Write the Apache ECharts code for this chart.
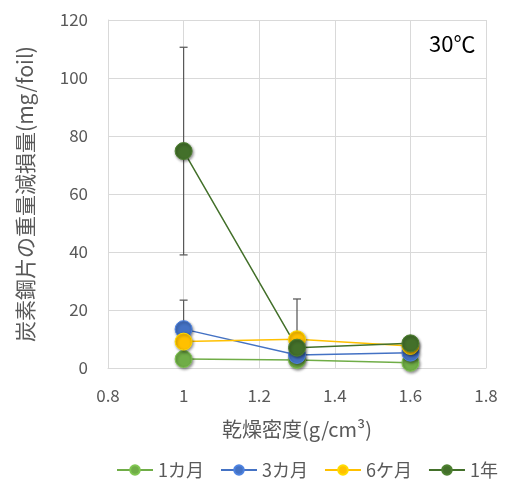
<!DOCTYPE html>
<html>
<head>
<meta charset="utf-8">
<script src="https://cdn.jsdelivr.net/npm/echarts@6/dist/echarts.min.js"></script>
<style>
  html, body { margin: 0; padding: 0; background: #fff; }
  #chart { width: 518px; height: 483px; }
</style>
</head>
<body>
<div id="chart"></div>
<script>
  // 乾燥密度 (x)
  var density = [1, 1.3, 1.6];
  // 重量減損量 mg/foil
  var month1 = [3.1, 2.8, 1.8];
  var month3 = [13.4, 4.5, 5.3];
  var month6 = [9.1, 9.9, 7.6];
  var year1  = [74.8, 7.0, 8.5];
  // 誤差 (標準偏差)
  var month3Err = [10.0, 0, 0];
  var year1Err  = [35.8, 16.8, 0];

  var seriesNames = ['1カ月', '3カ月', '6ケ月', '1年'];
  var colors = ['#70AD47', '#4472C4', '#FFC000', '#43702A'];
  var textColor = '#595959';
  var font = '"Noto Sans CJK JP", "Noto Sans", sans-serif';

  function pairs(vals) {
    return density.map(function (d, i) { return [d, vals[i]]; });
  }
  function errData(vals, errs) {
    var out = [];
    density.forEach(function (d, i) {
      if (errs[i] > 0) out.push([d, vals[i] - errs[i], vals[i] + errs[i]]);
    });
    return out;
  }

  function lineSeries(name, vals, color) {
    return {
      name: name,
      type: 'line',
      data: pairs(vals),
      symbol: 'circle',
      symbolSize: 17,
      z: 3,
      lineStyle: { color: color, width: 1.5 },
      itemStyle: {
        color: color,
        borderColor: echarts.color.lift(color, -0.15),
        borderWidth: 1,
        shadowBlur: 3,
        shadowColor: 'rgba(0,0,0,0.45)',
        shadowOffsetX: 1,
        shadowOffsetY: 1.5
      }
    };
  }

  function errSeries(data) {
    return {
      type: 'custom',
      data: data,
      z: 2,
      clip: true,
      silent: true,
      renderItem: function (params, api) {
        var x = api.value(0);
        var lo = api.coord([x, api.value(1)]);
        var hi = api.coord([x, api.value(2)]);
        var cap = 4;
        var style = { stroke: '#595959', lineWidth: 1.25 };
        return {
          type: 'group',
          children: [
            { type: 'line', shape: { x1: hi[0], y1: hi[1], x2: lo[0], y2: lo[1] }, style: style },
            { type: 'line', shape: { x1: hi[0] - cap, y1: hi[1], x2: hi[0] + cap, y2: hi[1] }, style: style },
            { type: 'line', shape: { x1: lo[0] - cap, y1: lo[1], x2: lo[0] + cap, y2: lo[1] }, style: style }
          ]
        };
      }
    };
  }

  var chart = echarts.init(document.getElementById('chart'));
  chart.setOption({
    animation: false,
    color: colors,
    textStyle: { fontFamily: font },
    grid: { left: 108, right: 32, top: 20, bottom: 115 },
    legend: {
      top: 461,
      left: 116,
      width: 400,
      padding: 0,
      itemWidth: 36,
      itemHeight: 12,
      itemGap: 16,
      data: seriesNames,
      textStyle: { color: textColor, fontSize: 18, fontFamily: font }
    },
    graphic: [{
      type: 'text',
      left: 429,
      top: 33,
      style: { text: '30℃', fontSize: 22, fill: '#000', fontFamily: font }
    }],
    xAxis: {
      type: 'value',
      min: 0.8,
      max: 1.8,
      interval: 0.2,
      name: '乾燥密度(g/cm³)',
      nameLocation: 'middle',
      nameGap: 51,
      nameTextStyle: { color: textColor, fontSize: 20 },
      axisLine: { show: true, lineStyle: { color: '#D9D9D9' } },
      axisTick: { show: false },
      axisLabel: {
        color: textColor, fontSize: 17, margin: 19,
        formatter: function (v) { return Math.round(v * 10) / 10 + ''; }
      },
      splitLine: { show: true, lineStyle: { color: '#D9D9D9' } }
    },
    yAxis: {
      type: 'value',
      min: 0,
      max: 120,
      interval: 20,
      name: '炭素鋼片の重量減損量(mg/foil)',
      nameLocation: 'middle',
      nameGap: 72,
      nameTextStyle: { color: textColor, fontSize: 21 },
      axisLine: { show: true, lineStyle: { color: '#D9D9D9' } },
      axisTick: { show: false },
      axisLabel: { color: textColor, fontSize: 17, margin: 20 },
      splitLine: { show: true, lineStyle: { color: '#D9D9D9' } }
    },
    series: [
      errSeries(errData(month3, month3Err)),
      errSeries(errData(year1, year1Err)),
      lineSeries(seriesNames[0], month1, colors[0]),
      lineSeries(seriesNames[1], month3, colors[1]),
      lineSeries(seriesNames[2], month6, colors[2]),
      lineSeries(seriesNames[3], year1, colors[3])
    ]
  });
</script>
</body>
</html>
